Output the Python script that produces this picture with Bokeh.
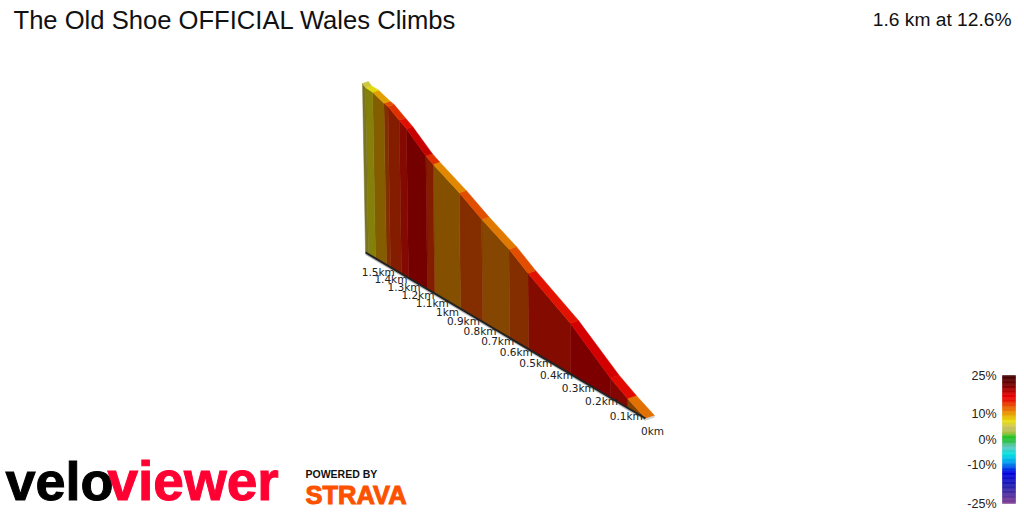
from bokeh.plotting import figure
from bokeh.models import Range1d
from bokeh.core.properties import value
from bokeh.embed import file_html
from bokeh.resources import INLINE

# ---- data ----
title = "The Old Shoe OFFICIAL Wales Climbs"
summary = "1.6 km at 12.6%"
distance_km = [0, 0.069, 0.137, 0.309, 0.512, 0.611, 0.763, 0.897, 1.067, 1.116, 1.253, 1.306, 1.392, 1.424, 1.515, 1.575, 1.6]
elevation_m = [0, 7.5, 16, 43.5, 69, 83, 100, 117, 136, 142, 164, 171, 182.5, 185, 194, 197, 201]
gradient_pct = [11.5, 16, 17.5, 15, 13, 11.2, 13, 10.5, 14, 18, 15.5, 14, 13, 9.5, 7, 5.5]
tick_km = [0, 0.1, 0.2, 0.3, 0.4, 0.5, 0.6, 0.7, 0.8, 0.9, 1, 1.1, 1.2, 1.3, 1.4, 1.5]
tick_labels = ["0km", "0.1km", "0.2km", "0.3km", "0.4km", "0.5km", "0.6km", "0.7km", "0.8km",
               "0.9km", "1km", "1.1km", "1.2km", "1.3km", "1.4km", "1.5km"]
legend_ticks = [25, 10, 0, -10, -25]
legend_labels = ["25%", "10%", "0%", "-10%", "-25%"]
ramp_pct = [25, 21, 17, 15, 13, 11, 9, 7, 4.5, 2.5, 1, -1, -3, -6, -9, -13, -18, -25]
ramp_rgb = [(0x3c, 0, 0), (0x7a, 0, 0), (0xe8, 0, 0), (0xe8, 0x14, 0), (0xe8, 0x50, 0), (0xe8, 0x80, 0),
            (0xe8, 0xb0, 0), (0xe8, 0xe0, 0x10), (0xc8, 0xc0, 0x60), (0xa8, 0xc0, 0x40), (0x20, 0xc0, 0x20),
            (0x30, 0xc0, 0x50), (0x60, 0xc8, 0xc0), (0, 0xe0, 0xe0), (0, 0xa0, 0xf0), (0, 0, 0xe0),
            (0x20, 0x20, 0xb0), (0x7f, 0x3f, 0x90)]


def shade(g, k=1.0):
    for i in range(len(ramp_pct) - 1):
        a, b = ramp_pct[i], ramp_pct[i + 1]
        if b <= g <= a:
            t = (a - g) / (a - b)
            c = [ramp_rgb[i][j] * (1 - t) + ramp_rgb[i + 1][j] * t for j in range(3)]
            break
    return "#%02x%02x%02x" % tuple(int(round(v * k)) for v in c)


# perspective view of the climb: distance runs away from the viewer
def persp(d):
    return 1 / (1 + 0.33 * d)


def project(d, h):
    bx = (645 - 54.5 * d) * persp(d)
    by = 418 - 0.593 * (645 - bx)
    px = 1.528 * 0.841 * h * persp(d)
    return bx - 0.018 * px * d / 1.6, by - px


def ribbon(d, h):
    x, y = project(d, h)
    s = persp(d)
    return x + 9 * s, y - 3 * s


wx, wy, wc, rx, ry, rc = [], [], [], [], [], []
for i, g in enumerate(gradient_pct):
    d0, d1, h0, h1 = distance_km[i], distance_km[i + 1], elevation_m[i], elevation_m[i + 1]
    a, b, c, e = project(d0, 0), project(d1, 0), project(d1, h1), project(d0, h0)
    wx.append([a[0], b[0], c[0], e[0]])
    wy.append([a[1], b[1], c[1], e[1]])
    wc.append(shade(g, 0.57))
    f, k = ribbon(d1, h1), ribbon(d0, h0)
    rx.append([e[0], c[0], f[0], k[0]])
    ry.append([e[1], c[1], f[1], k[1]])
    rc.append(shade(g, 0.97))

p = figure(width=1024, height=512, output_backend="svg", toolbar_location=None,
           x_range=Range1d(0, 1024), y_range=Range1d(512, 0), min_border=0)
p.axis.visible = False
p.grid.visible = False
p.outline_line_color = None
p.background_fill_color = "white"

p.patches(wx, wy, fill_color=wc, line_color=wc, line_width=0.5)
p.patches(rx, ry, fill_color=rc, line_color=rc, line_width=0.5)

# base edge and end cap
b0, b1 = project(distance_km[0], 0), project(distance_km[-1], 0)
p.line([b0[0], b1[0]], [b0[1] + 1.5, b1[1] + 1.5], line_color="#bbbbbb", line_width=1.5)
p.line([b0[0], b1[0]], [b0[1], b1[1]], line_color="#222222", line_width=2)
r0 = ribbon(distance_km[0], 0)
p.patch([b0[0], r0[0], r0[0], b0[0]], [b0[1], r0[1], r0[1] + 2, b0[1] + 2], fill_color="#d0d0d0", line_color=None)

# distance labels
tx = [project(d, 0)[0] + 7 - 4 * d for d in tick_km]
ty = [project(d, 0)[1] + 12.5 for d in tick_km]
p.text(tx, ty, text=tick_labels, text_font=value("DejaVu Sans"), text_font_size="10.5px", text_color="#222222",
       text_align="center", text_baseline="middle")

# colour legend
LEG_Y0, LEG_PX = 439, 2.56
levels = [25 - 0.5 * i for i in range(100)]
legend_colors = [shade(v - 0.25) for v in levels]
p.quad(left=[1002] * 100, right=[1015] * 100,
       top=[LEG_Y0 - LEG_PX * v for v in levels], bottom=[LEG_Y0 - LEG_PX * (v - 0.5) for v in levels],
       fill_color=legend_colors, line_color=legend_colors, line_width=0.5)
p.text([996] * 5, [LEG_Y0 - LEG_PX * v for v in legend_ticks], text=legend_labels, text_font=value("Liberation Sans"),
       text_font_size="12.5px", text_color="#222222", text_align="right", text_baseline="middle")

# headings
p.text([13], [19.5], text=[title], text_font=value("Liberation Sans"), text_font_size="25.6px", text_color="#111111",
       text_align="left", text_baseline="middle")
p.text([1011], [18.5], text=[summary], text_font=value("Liberation Sans"), text_font_size="19.2px", text_color="#111111",
       text_align="right", text_baseline="middle")

# logos
p.text([5], [480], text=["velo"], text_font=value("Liberation Sans"), text_font_style="bold", text_font_size="54px",
       text_color="#000000", text_outline_color="#000000", text_align="left", text_baseline="middle")
p.text([107], [480], text=["viewer"], text_font=value("Liberation Sans"), text_font_style="bold", text_font_size="55px",
       text_color="#ff0033", text_outline_color="#ff0033", text_align="left", text_baseline="middle")
p.text([305], [473], text=["POWERED BY"], text_font=value("Liberation Sans"), text_font_style="bold", text_font_size="10.5px",
       text_color="#111111", text_align="left", text_baseline="middle")
p.text([305], [494], text=["STRAVA"], text_font=value("Liberation Sans"), text_font_style="bold", text_font_size="25.5px",
       text_color="#fc5200", text_outline_color="#fc5200", text_align="left", text_baseline="middle")

open("out.html", "w").write(file_html(p, INLINE))
